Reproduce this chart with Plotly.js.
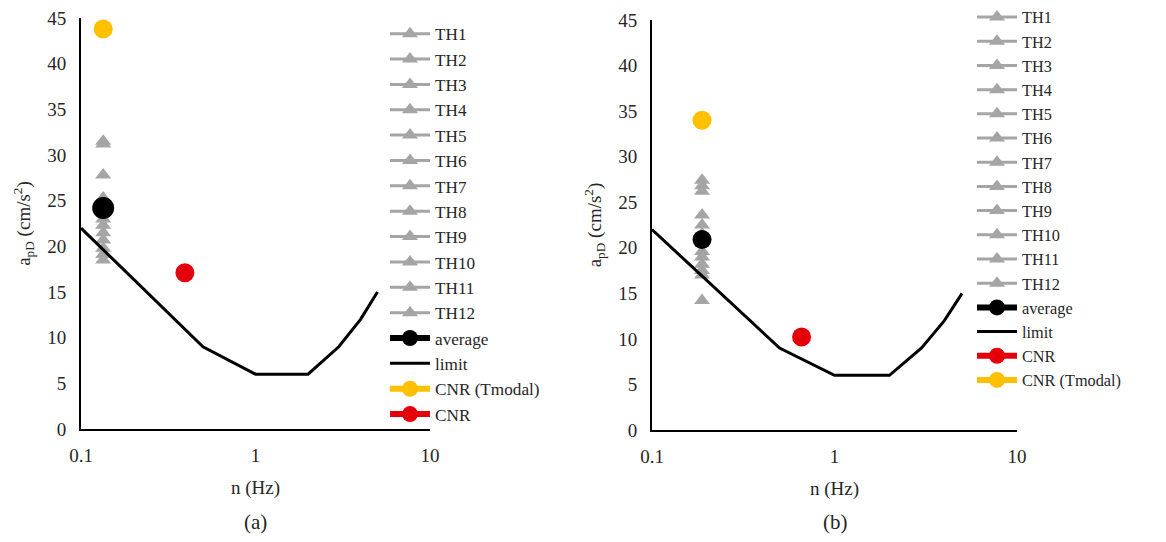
<!DOCTYPE html>
<html>
<head>
<meta charset="utf-8">
<script src="https://cdn.plot.ly/plotly-3.0.1.min.js"></script>
<style>html,body{margin:0;padding:0;background:#fff;}#chart{width:1166px;height:542px;}</style>
</head>
<body>
<div id="chart"></div>
<script>
// ---- data ----
const thNames = ['TH1','TH2','TH3','TH4','TH5','TH6','TH7','TH8','TH9','TH10','TH11','TH12'];
const nLimit = [0.1, 0.5, 1, 2, 3, 4, 5];
const limitVals = [22, 9, 6, 6, 9, 12, 15];

// panel (a)
const nModalA = 0.134;
const thA = [31.5, 31.2, 27.8, 25.3, 24.5, 23.0, 22.3, 21.5, 20.7, 19.8, 19.1, 18.5];
const avgA = 24.2;
const cnrTmodalA = 43.8;
const nCnrA = 0.394;
const cnrA = 17.1;

// panel (b)
const nModalB = 0.188;
const thB = [27.4, 26.8, 26.2, 23.6, 22.5, 21.5, 19.6, 19.0, 18.2, 17.5, 17.0, 14.2];
const avgB = 20.9;
const cnrTmodalB = 34.0;
const nCnrB = 0.66;
const cnrB = 10.2;

// ---- styles ----
const GREY = '#A5A5A5', BLACK = '#000000', RED = '#E3000B', GOLD = '#FFC000';
const TXTC = '#262626';
const serifFam = 'Liberation Serif';

function panelTraces(xa, ya, leg, nModal, th, avg, tmodal, nCnr, cnr, cnrFirst) {
  const tr = [];
  th.forEach((v, i) => tr.push({
    x: [nModal], y: [v], name: thNames[i], xaxis: xa, yaxis: ya, legend: leg,
    type: 'scatter', mode: 'lines+markers',
    line: {color: GREY, width: 3},
    marker: {symbol: 'triangle-up', size: 14, color: GREY}
  }));
  tr.push({x: [nModal], y: [avg], name: 'average', xaxis: xa, yaxis: ya, legend: leg,
    type: 'scatter', mode: 'lines+markers', line: {color: BLACK, width: 6},
    marker: {symbol: 'circle', size: xa === 'x' ? 22 : 19, color: BLACK}});
  tr.push({x: nLimit, y: limitVals, name: 'limit', xaxis: xa, yaxis: ya, legend: leg,
    type: 'scatter', mode: 'lines', line: {color: BLACK, width: 3}});
  const tm = {x: [nModal], y: [tmodal], name: 'CNR (Tmodal)', xaxis: xa, yaxis: ya, legend: leg,
    type: 'scatter', mode: 'lines+markers', line: {color: GOLD, width: 6},
    marker: {symbol: 'circle', size: 19, color: GOLD}};
  const cn = {x: [nCnr], y: [cnr], name: 'CNR', xaxis: xa, yaxis: ya, legend: leg,
    type: 'scatter', mode: 'lines+markers', line: {color: RED, width: 6},
    marker: {symbol: 'circle', size: 19, color: RED}};
  if (cnrFirst) { tr.push(cn, tm); } else { tr.push(tm, cn); }
  return tr;
}

const data = [].concat(
  panelTraces('x', 'y', 'legend', nModalA, thA, avgA, cnrTmodalA, nCnrA, cnrA, false),
  panelTraces('x2', 'y2', 'legend2', nModalB, thB, avgB, cnrTmodalB, nCnrB, cnrB, true)
);

function xAxis(dom, anchor) {
  return {domain: dom, anchor: anchor, type: 'log', range: [-1, 1],
    tickvals: [0.1, 1, 10], ticktext: ['0.1', '1', '10'],
    showgrid: false, zeroline: false, showline: true, linecolor: BLACK, linewidth: 2,
    ticks: '', ticklabelstandoff: 8, tickfont: {family: serifFam, size: 19, color: TXTC},
    title: {text: 'n (Hz)', font: {family: serifFam, size: 19, color: TXTC}, standoff: 16},
    automargin: false, fixedrange: true};
}
function yAxis(dom, anchor) {
  return {domain: dom, anchor: anchor, range: [0, 45], dtick: 5,
    showgrid: false, zeroline: false, showline: true, linecolor: BLACK, linewidth: 2,
    ticks: '', ticklabelstandoff: 9, tickfont: {family: serifFam, size: 19, color: TXTC},
    title: {text: 'a<sub>pD</sub> (cm/s<sup>2</sup>)', font: {family: serifFam, size: 19, color: TXTC}, standoff: 12},
    automargin: false, fixedrange: true};
}

const layout = {
  width: 1166, height: 542,
  margin: {l: 0, r: 0, t: 0, b: 0},
  paper_bgcolor: '#ffffff', plot_bgcolor: '#ffffff',
  font: {family: serifFam, color: TXTC},
  xaxis: xAxis([81/1166, 430/1166], 'y'),
  yaxis: yAxis([(542-429)/542, (542-18)/542], 'x'),
  xaxis2: xAxis([652/1166, 1017/1166], 'y2'),
  yaxis2: yAxis([(542-430)/542, (542-20)/542], 'x2'),
  legend: {x: 385/1166, y: (542-16)/542, xanchor: 'left', yanchor: 'top',
    bgcolor: 'rgba(0,0,0,0)', borderwidth: 0, itemwidth: 40,
    font: {family: serifFam, size: 17.2, color: TXTC}, tracegroupgap: 0},
  legend2: {x: 972/1166, y: 1, xanchor: 'left', yanchor: 'top',
    bgcolor: 'rgba(0,0,0,0)', borderwidth: 0, itemwidth: 40,
    font: {family: serifFam, size: 16.3, color: TXTC}, tracegroupgap: 0},
  annotations: [
    {text: '(a)', xref: 'paper', yref: 'paper', x: 255/1166, y: (542-522)/542,
     showarrow: false, xanchor: 'center', yanchor: 'middle', font: {family: serifFam, size: 21, color: TXTC}},
    {text: '(b)', xref: 'paper', yref: 'paper', x: 835/1166, y: (542-522)/542,
     showarrow: false, xanchor: 'center', yanchor: 'middle', font: {family: serifFam, size: 21, color: TXTC}}
  ],
  showlegend: true
};

Plotly.newPlot('chart', data, layout, {staticPlot: true, displayModeBar: false});
</script>
</body>
</html>
